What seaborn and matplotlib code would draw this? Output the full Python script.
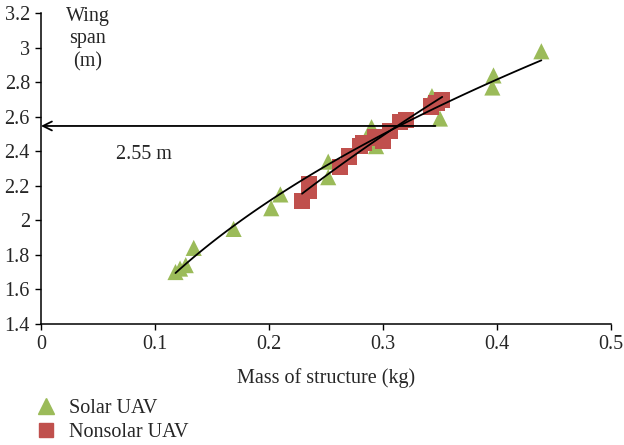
import numpy as np
import pandas as pd
import matplotlib
matplotlib.use("Agg")
import matplotlib.pyplot as plt
import seaborn as sns
from matplotlib.lines import Line2D

# ---- data ----
solar_mass = [0.118, 0.122, 0.127, 0.134, 0.169, 0.202, 0.210, 0.252, 0.252,
              0.290, 0.294, 0.343, 0.350, 0.396, 0.397, 0.439]
solar_span = [1.70, 1.72, 1.74, 1.84, 1.95, 2.07, 2.15, 2.25, 2.34,
              2.54, 2.43, 2.72, 2.59, 2.77, 2.84, 2.98]
nonsolar_mass = [0.229, 0.235, 0.235, 0.262, 0.270, 0.280, 0.283, 0.293, 0.300,
                 0.306, 0.315, 0.320, 0.342, 0.347, 0.352]
nonsolar_span = [2.11, 2.17, 2.21, 2.31, 2.37, 2.43, 2.45, 2.48, 2.46,
                 2.52, 2.57, 2.58, 2.66, 2.68, 2.70]
series_names = ["Solar UAV", "Nonsolar UAV"]
x_ticks = [0, 0.1, 0.2, 0.3, 0.4, 0.5]
x_tick_labels = ["0", "0.1", "0.2", "0.3", "0.4", "0.5"]
y_ticks = [1.4, 1.6, 1.8, 2.0, 2.2, 2.4, 2.6, 2.8, 3.0, 3.2]
y_tick_labels = ["1.4", "1.6", "1.8", "2", "2.2", "2.4", "2.6", "2.8", "3", "3.2"]
marked_span = 2.547
marked_mass = 0.346

df = pd.DataFrame({
    "mass": solar_mass + nonsolar_mass,
    "span": solar_span + nonsolar_span,
    "type": [series_names[0]] * len(solar_mass) + [series_names[1]] * len(nonsolar_mass),
})

sns.set_style("ticks")
plt.rcParams["font.family"] = ["Liberation Serif", "DejaVu Serif"]

fig = plt.figure(figsize=(6.24, 4.45), dpi=100)
ax = fig.add_axes([0.0657, 0.2724, 0.9133, 0.6976])

green = "#9BBB59"
red = "#C0504D"
sns.scatterplot(data=df, x="mass", y="span", hue="type", style="type",
                markers={series_names[0]: "^", series_names[1]: "s"},
                palette={series_names[0]: green, series_names[1]: red},
                s=135, linewidth=0, alpha=1.0, ax=ax, legend=False, zorder=3)

# power-law trend lines fitted to each series
for xs, ys in [(solar_mass, solar_span), (nonsolar_mass, nonsolar_span)]:
    xs = np.asarray(xs); ys = np.asarray(ys)
    b, lna = np.polyfit(np.log(xs), np.log(ys), 1)
    xx = np.linspace(xs.min(), xs.max(), 100)
    sns.lineplot(x=xx, y=np.exp(lna) * xx ** b, color="black", lw=1.3, ax=ax, zorder=4)

ax.annotate("", xy=(0, marked_span), xytext=(marked_mass, marked_span),
            arrowprops=dict(arrowstyle="->", color="black", lw=1.3,
                            mutation_scale=16, shrinkA=0, shrinkB=0), zorder=5)
ax.text(0.066, 2.38, "2.55 m", fontsize=14.5, ha="left", va="center")
ax.text(0.041, 3.238, "Wing\nspan\n(m)", fontsize=14.5, ha="center", va="top",
        linespacing=1.25, clip_on=False)

ax.set_xlim(0, 0.5)
ax.set_ylim(1.4, 3.2)
ax.set_xticks(x_ticks)
ax.set_xticklabels(x_tick_labels, fontsize=14.5)
ax.set_yticks(y_ticks)
ax.set_yticklabels(y_tick_labels, fontsize=14.5)
ax.tick_params(direction="out", length=4, width=1, color="black", pad=4)
ax.set_xlabel("Mass of structure (kg)", fontsize=14.5, labelpad=10)
ax.set_ylabel("")
for side in ["top", "right"]:
    ax.spines[side].set_visible(False)
for side in ["left", "bottom"]:
    ax.spines[side].set_color("black")
    ax.spines[side].set_linewidth(1.1)

handles = [Line2D([], [], marker="^", color=green, ls="", markersize=11),
           Line2D([], [], marker="s", color=red, ls="", markersize=10)]
fig.legend(handles, series_names, loc="upper left", bbox_to_anchor=(0.045, 0.121),
           frameon=False, fontsize=14.5, handletextpad=0.65, labelspacing=0.25,
           borderaxespad=0, handlelength=1.0)

fig.savefig("out.png", dpi=100)
